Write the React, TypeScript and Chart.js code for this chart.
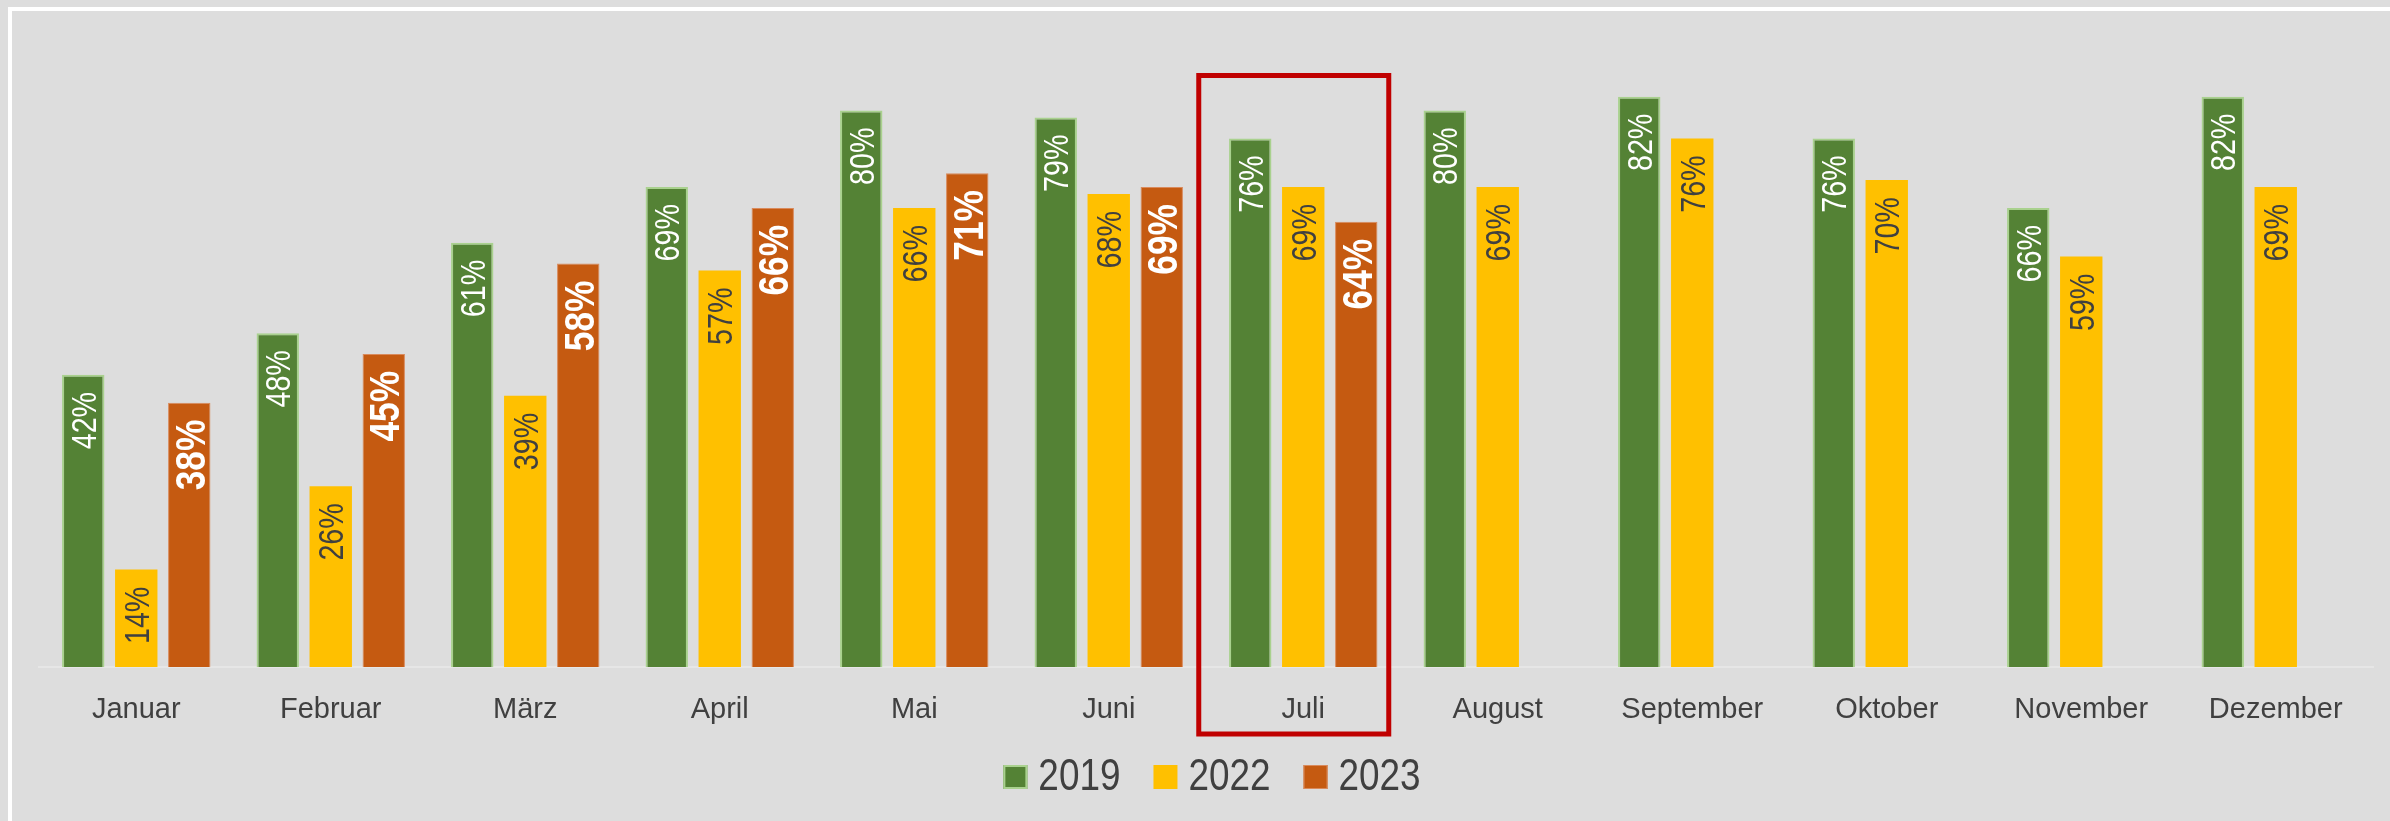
import React, { useEffect, useRef } from "react";
import { Chart, registerables } from "chart.js";

Chart.register(...registerables);

const MONTHS = ["Januar", "Februar", "März", "April", "Mai", "Juni", "Juli", "August", "September", "Oktober", "November", "Dezember"];
const SERIES_NAMES = ["2019", "2022", "2023"];
const VALUES_2019 = [42, 48, 61, 69, 80, 79, 76, 80, 82, 76, 66, 82];
const VALUES_2022 = [14, 26, 39, 57, 66, 68, 69, 69, 76, 70, 59, 69];
const VALUES_2023 = [38, 45, 58, 66, 71, 69, 64, null, null, null, null, null];
const HIGHLIGHT_INDEX = 6;
const Y_MAX = 90;

const FONT = "'Liberation Sans', Arial, sans-serif";
const NARROW = 0.82;
const BG = "#DDDDDD";
const TEXT = "#404040";
const COLORS = ["#548235", "#FFC000", "#C55A11"];
const BORDERS = ["#A9D18E", "#FFC000", "#D98A5C"];
const BORDER_W = [2, 0, 1];
const LABEL_STYLE = [
  { color: "#FFFFFF", font: `35px ${FONT}`, cap: 25 },
  { color: TEXT, font: `35px ${FONT}`, cap: 25 },
  { color: "#FFFFFF", font: `bold 43px ${FONT}`, cap: 31 },
];

const bgPlugin = {
  id: "bg",
  beforeDraw(chart: any) {
    const { ctx, width, height } = chart;
    ctx.save();
    ctx.fillStyle = BG;
    ctx.fillRect(0, 0, width, height);
    ctx.fillStyle = "#FFFFFF";
    ctx.fillRect(8, 7, width - 8, 4);
    ctx.fillRect(8, 7, 4, height - 7);
    ctx.restore();
  },
};

const labelPlugin = {
  id: "barLabels",
  afterDatasetsDraw(chart: any) {
    const { ctx } = chart;
    chart.data.datasets.forEach((ds: any, di: number) => {
      const meta = chart.getDatasetMeta(di);
      const st = LABEL_STYLE[di];
      meta.data.forEach((el: any, i: number) => {
        const v = ds.data[i];
        if (v === null || v === undefined) return;
        ctx.save();
        ctx.translate(el.x, el.y + 17);
        ctx.rotate(-Math.PI / 2);
        ctx.scale(NARROW, 1);
        ctx.font = st.font;
        ctx.fillStyle = st.color;
        ctx.textAlign = "right";
        ctx.textBaseline = "alphabetic";
        ctx.fillText(`${v}%`, 0, st.cap / 2);
        ctx.restore();
      });
    });
  },
};

const highlightPlugin = {
  id: "highlight",
  afterDraw(chart: any) {
    const { ctx, chartArea } = chart;
    const xs = chart.scales.x;
    const cx = xs.getPixelForValue(HIGHLIGHT_INDEX);
    ctx.save();
    ctx.strokeStyle = "#C00000";
    ctx.lineWidth = 5;
    ctx.strokeRect(cx - 104.5, chartArea.top + 34.5, 190, chartArea.bottom - chartArea.top + 67 - 34.5);
    ctx.restore();
  },
};

const legendPlugin = {
  id: "customLegend",
  afterDraw(chart: any) {
    const { ctx, chartArea } = chart;
    ctx.save();
    ctx.font = `45px ${FONT}`;
    const box = 24, gap = 11, itemGap = 33;
    const widths = SERIES_NAMES.map((n) => ctx.measureText(n).width * NARROW);
    const total = widths.reduce((a, w) => a + box + gap + w, 0) + itemGap * (SERIES_NAMES.length - 1);
    let x = (chartArea.left + chartArea.right) / 2 + 6 - total / 2;
    const cy = 777;
    SERIES_NAMES.forEach((n, i) => {
      ctx.fillStyle = COLORS[i];
      ctx.fillRect(x, cy - box / 2, box, box);
      if (BORDER_W[i] > 0) {
        ctx.strokeStyle = BORDERS[i];
        ctx.lineWidth = BORDER_W[i];
        ctx.strokeRect(x + BORDER_W[i] / 2, cy - box / 2 + BORDER_W[i] / 2, box - BORDER_W[i], box - BORDER_W[i]);
      }
      ctx.save();
      ctx.translate(x + box + gap, 790);
      ctx.scale(NARROW, 1);
      ctx.fillStyle = TEXT;
      ctx.textAlign = "left";
      ctx.textBaseline = "alphabetic";
      ctx.fillText(n, 0, 0);
      ctx.restore();
      x += box + gap + widths[i] + itemGap;
    });
    ctx.restore();
  },
};

export default function App() {
  const ref = useRef<HTMLCanvasElement>(null);
  useEffect(() => {
    document.body.style.margin = "0";
    document.body.style.background = BG;
    const chart = new Chart(ref.current as HTMLCanvasElement, {
      type: "bar",
      data: {
        labels: MONTHS,
        datasets: [VALUES_2019, VALUES_2022, VALUES_2023].map((d, i) => ({
          label: SERIES_NAMES[i],
          data: d,
          backgroundColor: COLORS[i],
          borderColor: BORDERS[i],
          borderWidth: BORDER_W[i],
          categoryPercentage: 0.8175,
          barPercentage: 0.8,
        })),
      },
      options: {
        responsive: false,
        devicePixelRatio: 1,
        animation: false,
        layout: { padding: { left: 39, right: 17, top: 41, bottom: 64 } },
        plugins: { legend: { display: false }, tooltip: { enabled: false } },
        scales: {
          x: {
            grid: { display: false },
            border: { display: true, color: "#E6E6E6", width: 2 },
            ticks: { color: TEXT, font: { family: FONT, size: 29 }, padding: 18 },
            afterFit: (s: any) => { s.height = 90; },
          },
          y: { display: false, min: 0, max: Y_MAX },
        },
      },
      plugins: [bgPlugin, labelPlugin, highlightPlugin, legendPlugin],
    });
    return () => chart.destroy();
  }, []);
  return <canvas ref={ref} width={2390} height={821} style={{ display: "block" }} />;
}
